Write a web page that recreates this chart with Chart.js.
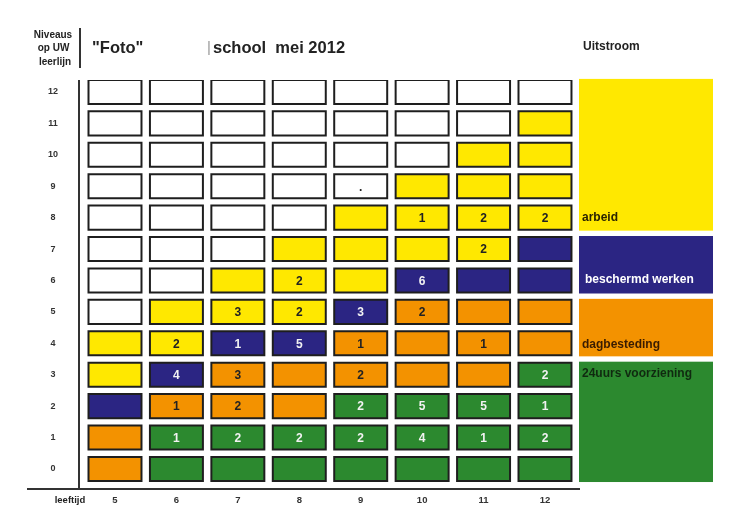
<!DOCTYPE html>
<html><head><meta charset="utf-8">
<script src="https://cdn.jsdelivr.net/npm/chart.js@4/dist/chart.umd.min.js"></script>
<style>html,body{margin:0;padding:0;background:#fff}#wrap{width:729px;height:520px;position:relative}</style>
</head><body><div id="wrap"><canvas id="c" width="729" height="520"></canvas></div>
<script>
// ---- data ----
const ages = [5, 6, 7, 8, 9, 10, 11, 12];
const levels = [0, 1, 2, 3, 4, 5, 6, 7, 8, 9, 10, 11, 12];
// number of cells per outcome band in each age column (stacked from level 0 upwards)
const greenCells  = [0, 2, 2, 2, 3, 3, 3, 4];
const orangeCells = [2, 1, 2, 2, 2, 3, 3, 2];
const blueCells   = [1, 1, 1, 1, 1, 1, 1, 2];
const yellowCells = [2, 2, 2, 3, 3, 3, 4, 4];
// pupil counts written in the cells, per level, across ages 5..12
const countsLevel1 = [null, 1, 2, 2, 2, 4, 1, 2];
const countsLevel2 = [null, 1, 2, null, 2, 5, 5, 1];
const countsLevel3 = [null, 4, 3, null, 2, null, null, 2];
const countsLevel4 = [null, 2, 1, 5, 1, null, 1, null];
const countsLevel5 = [null, null, 3, 2, 3, 2, null, null];
const countsLevel6 = [null, null, null, 2, null, 6, null, null];
const countsLevel7 = [null, null, null, null, null, null, 2, null];
const countsLevel8 = [null, null, null, null, null, 1, 2, 2];
const countsLevel9 = [null, null, null, null, '.', null, null, null];
// outflow (Uitstroom) legend
const uitstroomLabels = ['arbeid', 'beschermd werken', 'dagbesteding', '24uurs voorziening'];
const uitstroomFrom = [8, 6, 4, 0];
const uitstroomTo = [12, 7, 5, 3];

// ---- styles ----
const COL = { green: '#2C892F', orange: '#F39200', blue: '#2B2583', yellow: '#FFE800', white: '#FFFFFF' };
const uitstroomColors = [COL.yellow, COL.blue, COL.orange, COL.green];
const FONT = '"Liberation Sans", Arial, sans-serif';
const countsByLevel = [null, countsLevel1, countsLevel2, countsLevel3, countsLevel4, countsLevel5,
  countsLevel6, countsLevel7, countsLevel8, countsLevel9, null, null, null];

function bandOf(ageIdx, level) {
  let t = greenCells[ageIdx];
  if (level < t) return 'green';
  t += orangeCells[ageIdx];
  if (level < t) return 'orange';
  t += blueCells[ageIdx];
  if (level < t) return 'blue';
  t += yellowCells[ageIdx];
  if (level < t) return 'yellow';
  return 'white';
}

const HALF = 0.415;          // half cell height in level units
const PX_PER_LEVEL = 31.42;
const FRAME = 2;             // frame thickness in px
const INNER = HALF - FRAME / PX_PER_LEVEL;
const datasets = [];
levels.forEach(lvl => {
  // dark frame (behind)
  datasets.push({
    label: 'kader ' + lvl,
    data: ages.map(a => ({ x: a, y: [lvl - HALF, lvl + HALF] })),
    backgroundColor: '#1e1e1e',
    borderWidth: 0,
    categoryPercentage: 1,
    barPercentage: 0.895,
    order: 2
  });
});
levels.forEach(lvl => {
  // coloured fill (front)
  datasets.push({
    label: 'niveau ' + lvl,
    level: lvl,
    data: ages.map(a => ({ x: a, y: [lvl - INNER, lvl + INNER] })),
    backgroundColor: ages.map((a, i) => COL[bandOf(i, lvl)]),
    borderWidth: 0,
    categoryPercentage: 1,
    barPercentage: 0.83,
    order: 1
  });
});

const deco = {
  id: 'deco',
  beforeDatasetsDraw(chart) {
    const ctx = chart.ctx, a = chart.chartArea, y = chart.scales.y;
    ctx.save();
    ctx.strokeStyle = '#333'; ctx.lineWidth = 2;
    ctx.beginPath(); ctx.moveTo(a.left, a.top); ctx.lineTo(a.left, a.bottom); ctx.stroke();
    ctx.beginPath(); ctx.moveTo(27, a.bottom); ctx.lineTo(a.right, a.bottom); ctx.stroke();
    ctx.beginPath(); ctx.moveTo(a.left + 1, 28); ctx.lineTo(a.left + 1, 68); ctx.stroke();
    const bx = a.right - 1, bw = 134;
    uitstroomLabels.forEach((lab, i) => {
      const top = y.getPixelForValue(uitstroomTo[i] + HALF);
      const bot = y.getPixelForValue(uitstroomFrom[i] - HALF);
      ctx.fillStyle = uitstroomColors[i];
      ctx.fillRect(bx, top, bw, bot - top);
    });
    ctx.restore();
  },
  afterDatasetsDraw(chart) {
    const ctx = chart.ctx, a = chart.chartArea, y = chart.scales.y;
    ctx.save();
    ctx.fillStyle = '#222';
    ctx.textBaseline = 'middle';
    ctx.textAlign = 'center';
    ctx.font = 'bold 10px ' + FONT;
    ctx.fillText('Niveaus', 53, 35);
    ctx.fillText('op UW', 53.5, 48.5);
    ctx.fillText('leerlijn', 55, 62);
    ctx.textAlign = 'left';
    ctx.font = 'bold 16.5px ' + FONT;
    ctx.fillText('"Foto"', 92, 48);
    ctx.fillText('school  mei 2012', 213, 48);
    ctx.fillStyle = '#999';
    ctx.font = '15px ' + FONT;
    ctx.fillText('|', 207, 48);
    ctx.fillStyle = '#222';
    ctx.font = 'bold 12px ' + FONT;
    ctx.fillText('Uitstroom', 583, 47);
    ctx.textAlign = 'center';
    ctx.font = 'bold 9.5px ' + FONT;
    ctx.fillText('leeftijd', 70, 500);
    const labelPos = [
      { dx: 3, fromBottom: 13, color: '#2a2400' },
      { dx: 6, fromBottom: 14, color: '#ffffff' },
      { dx: 3, fromBottom: 12, color: '#3a1c00' },
      { dx: 3, fromTop: 12, color: '#102a10' }
    ];
    ctx.textAlign = 'left';
    ctx.font = 'bold 12px ' + FONT;
    uitstroomLabels.forEach((lab, i) => {
      const top = y.getPixelForValue(uitstroomTo[i] + HALF);
      const bot = y.getPixelForValue(uitstroomFrom[i] - HALF);
      const p = labelPos[i];
      const ty = p.fromTop !== undefined ? top + p.fromTop : bot - p.fromBottom;
      ctx.fillStyle = p.color;
      ctx.fillText(lab, a.right - 1 + p.dx, ty);
    });
    ctx.textAlign = 'center';
    ctx.font = 'bold 12px ' + FONT;
    chart.data.datasets.forEach((ds, di) => {
      if (ds.level === undefined) return;
      const counts = countsByLevel[ds.level];
      if (!counts) return;
      const meta = chart.getDatasetMeta(di);
      counts.forEach((v, i) => {
        if (v === null || v === undefined) return;
        const el = meta.data[i];
        const band = bandOf(i, ds.level);
        ctx.fillStyle = (band === 'green' || band === 'blue') ? '#f2f2f2' : '#222';
        ctx.fillText(String(v), el.x, (el.y + el.base) / 2 + 1);
      });
    });
    ctx.restore();
  }
};

new Chart(document.getElementById('c'), {
  type: 'bar',
  data: { datasets },
  options: {
    responsive: false,
    devicePixelRatio: 1,
    animation: false,
    layout: { padding: { left: 0, top: 80, right: 149, bottom: 0 } },
    plugins: { legend: { display: false }, tooltip: { enabled: false }, title: { display: false } },
    scales: {
      x: {
        type: 'linear',
        offset: false,
        min: 4.414, max: 12.57,
        afterBuildTicks: s => { s.ticks = ages.map(v => ({ value: v })); },
        afterFit: s => { s.height = 31; },
        grid: { display: false, drawTicks: false, offset: false },
        border: { display: false },
        ticks: { padding: 6, color: '#333', font: { family: FONT, size: 9.5, weight: 'bold' }, maxRotation: 0, autoSkip: false }
      },
      y: {
        type: 'linear',
        min: -0.637, max: 12.38,
        afterBuildTicks: s => { s.ticks = levels.map(v => ({ value: v })); },
        afterFit: s => { s.width = 79; },
        grid: { display: false, drawTicks: false },
        border: { display: false },
        ticks: { padding: 21, crossAlign: 'center', color: '#333', font: { family: FONT, size: 9, weight: 'bold' }, autoSkip: false }
      }
    },
    datasets: { bar: { grouped: false } }
  },
  plugins: [deco]
});
</script></body></html>
